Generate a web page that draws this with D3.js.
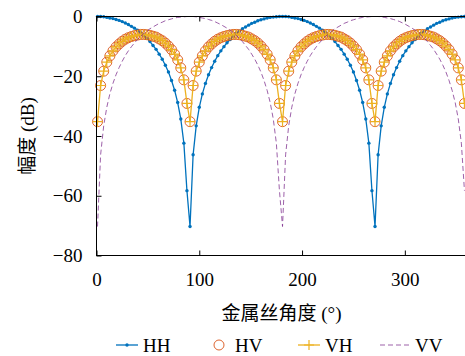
<!DOCTYPE html>
<html>
<head>
<meta charset="utf-8">
<script src="https://cdn.jsdelivr.net/npm/d3@7"></script>
<style>
  body { margin: 0; background: #fff; }
  text { font-family: "Liberation Serif", "Noto Sans CJK SC", serif; fill: #000; }
</style>
</head>
<body>
<svg id="chart" width="465" height="356"></svg>
<script>
// wire angle (deg) for every sample
const angles = [
  1, 4, 7, 10, 13, 16, 19, 22, 25, 28,
  31, 34, 37, 40, 43, 46, 49, 52, 55, 58,
  61, 64, 67, 70, 73, 76, 79, 82, 85, 88,
  91, 94, 97, 100, 103, 106, 109, 112, 115, 118,
  121, 124, 127, 130, 133, 136, 139, 142, 145, 148,
  151, 154, 157, 160, 163, 166, 169, 172, 175, 178,
  181, 184, 187, 190, 193, 196, 199, 202, 205, 208,
  211, 214, 217, 220, 223, 226, 229, 232, 235, 238,
  241, 244, 247, 250, 253, 256, 259, 262, 265, 268,
  271, 274, 277, 280, 283, 286, 289, 292, 295, 298,
  301, 304, 307, 310, 313, 316, 319, 322, 325, 328,
  331, 334, 337, 340, 343, 346, 349, 352, 355, 358
];

// amplitudes in dB
const hhDb = [
  0.0, 0.0, -0.1, -0.3, -0.5, -0.7, -1.0, -1.3, -1.7, -2.2,
  -2.7, -3.3, -3.9, -4.6, -5.4, -6.3, -7.3, -8.4, -9.7, -11.0,
  -12.6, -14.3, -16.3, -18.6, -21.4, -24.7, -28.8, -34.3, -42.4, -58.3,
  -70.3, -46.3, -36.6, -30.4, -25.9, -22.4, -19.5, -17.1, -15.0, -13.1,
  -11.5, -10.1, -8.8, -7.7, -6.6, -5.7, -4.9, -4.1, -3.5, -2.9,
  -2.3, -1.9, -1.4, -1.1, -0.8, -0.5, -0.3, -0.2, -0.1, 0.0,
  0.0, 0.0, -0.1, -0.3, -0.5, -0.7, -1.0, -1.3, -1.7, -2.2,
  -2.7, -3.3, -3.9, -4.6, -5.4, -6.3, -7.3, -8.4, -9.7, -11.0,
  -12.6, -14.3, -16.3, -18.6, -21.4, -24.7, -28.8, -34.3, -42.4, -58.3,
  -70.3, -46.3, -36.6, -30.4, -25.9, -22.4, -19.5, -17.1, -15.0, -13.1,
  -11.5, -10.1, -8.8, -7.7, -6.6, -5.7, -4.9, -4.1, -3.5, -2.9,
  -2.3, -1.9, -1.4, -1.1, -0.8, -0.5, -0.3, -0.2, -0.1, 0.0
];

const hvDb = [
  -35.2, -23.1, -18.3, -15.3, -13.2, -11.5, -10.2, -9.2, -8.3, -7.6,
  -7.1, -6.7, -6.4, -6.2, -6.0, -6.0, -6.1, -6.3, -6.6, -6.9,
  -7.5, -8.1, -8.9, -9.9, -11.1, -12.6, -14.5, -17.2, -21.2, -29.1,
  -35.2, -23.1, -18.3, -15.3, -13.2, -11.5, -10.2, -9.2, -8.3, -7.6,
  -7.1, -6.7, -6.4, -6.2, -6.0, -6.0, -6.1, -6.3, -6.6, -6.9,
  -7.5, -8.1, -8.9, -9.9, -11.1, -12.6, -14.5, -17.2, -21.2, -29.1,
  -35.2, -23.1, -18.3, -15.3, -13.2, -11.5, -10.2, -9.2, -8.3, -7.6,
  -7.1, -6.7, -6.4, -6.2, -6.0, -6.0, -6.1, -6.3, -6.6, -6.9,
  -7.5, -8.1, -8.9, -9.9, -11.1, -12.6, -14.5, -17.2, -21.2, -29.1,
  -35.2, -23.1, -18.3, -15.3, -13.2, -11.5, -10.2, -9.2, -8.3, -7.6,
  -7.1, -6.7, -6.4, -6.2, -6.0, -6.0, -6.1, -6.3, -6.6, -6.9,
  -7.5, -8.1, -8.9, -9.9, -11.1, -12.6, -14.5, -17.2, -21.2, -29.1
];

// VH sits right on top of HV in the picture
const vhDb = [...hvDb];

const vvDb = [
  -70.3, -46.3, -36.6, -30.4, -25.9, -22.4, -19.5, -17.1, -15.0, -13.1,
  -11.5, -10.1, -8.8, -7.7, -6.6, -5.7, -4.9, -4.1, -3.5, -2.9,
  -2.3, -1.9, -1.4, -1.1, -0.8, -0.5, -0.3, -0.2, -0.1, 0.0,
  0.0, 0.0, -0.1, -0.3, -0.5, -0.7, -1.0, -1.3, -1.7, -2.2,
  -2.7, -3.3, -3.9, -4.6, -5.4, -6.3, -7.3, -8.4, -9.7, -11.0,
  -12.6, -14.3, -16.3, -18.6, -21.4, -24.7, -28.8, -34.3, -42.4, -58.3,
  -70.3, -46.3, -36.6, -30.4, -25.9, -22.4, -19.5, -17.1, -15.0, -13.1,
  -11.5, -10.1, -8.8, -7.7, -6.6, -5.7, -4.9, -4.1, -3.5, -2.9,
  -2.3, -1.9, -1.4, -1.1, -0.8, -0.5, -0.3, -0.2, -0.1, 0.0,
  0.0, 0.0, -0.1, -0.3, -0.5, -0.7, -1.0, -1.3, -1.7, -2.2,
  -2.7, -3.3, -3.9, -4.6, -5.4, -6.3, -7.3, -8.4, -9.7, -11.0,
  -12.6, -14.3, -16.3, -18.6, -21.4, -24.7, -28.8, -34.3, -42.4, -58.3
];

const xTicks = [0, 100, 200, 300];
const yTicks = [0, -20, -40, -60, -80];
const seriesNames = ["HH", "HV", "VH", "VV"];

const colors = { HH: "#0072bd", HV: "#d95319", VH: "#edb120", VV: "#7e2f8e" };

const svg = d3.select("#chart");
const x = d3.scaleLinear().domain([0, 360]).range([96.5, 466.5]);
const y = d3.scaleLinear().domain([-80, 0]).range([255.5, 16.5]);
const fs = 19;

const pts = vals => angles.map((a, i) => ({ a: a, v: vals[i] }));
const line = d3.line().x(d => x(d.a)).y(d => y(d.v));

// HH: line with small dots
const hh = pts(hhDb);
svg.append("path").datum(hh)
  .attr("d", line).attr("fill", "none")
  .attr("stroke", colors.HH).attr("stroke-width", 1.3);
svg.append("g").selectAll("circle").data(hh).enter().append("circle")
  .attr("cx", d => x(d.a)).attr("cy", d => y(d.v))
  .attr("r", 1.7).attr("fill", colors.HH);

// HV: open circles only
svg.append("g").selectAll("circle").data(pts(hvDb)).enter().append("circle")
  .attr("cx", d => x(d.a)).attr("cy", d => y(d.v))
  .attr("r", 5).attr("fill", "none")
  .attr("stroke", colors.HV).attr("stroke-width", 0.9);

// VH: line with plus markers
const vh = pts(vhDb);
svg.append("path").datum(vh)
  .attr("d", line).attr("fill", "none")
  .attr("stroke", colors.VH).attr("stroke-width", 1.3);
svg.append("g").selectAll("path").data(vh).enter().append("path")
  .attr("d", d => `M${x(d.a) - 5},${y(d.v)}h10M${x(d.a)},${y(d.v) - 5}v10`)
  .attr("stroke", colors.VH).attr("stroke-width", 1.2);

// VV: dashed line
svg.append("path").datum(pts(vvDb))
  .attr("d", line).attr("fill", "none")
  .attr("stroke", colors.VV).attr("stroke-width", 0.9)
  .attr("stroke-opacity", 0.85)
  .attr("stroke-dasharray", "5,3");

// frame
svg.append("rect")
  .attr("x", x(0)).attr("y", y(0))
  .attr("width", x(360) - x(0)).attr("height", y(-80) - y(0))
  .attr("fill", "none").attr("stroke", "#000").attr("stroke-width", 1);

// axes, ticks pointing inward
const fmt = d3.format("d");
const gx = svg.append("g").attr("transform", `translate(0,${y(-80)})`)
  .call(d3.axisBottom(x).tickValues(xTicks).tickFormat(fmt)
    .tickSize(-5).tickSizeOuter(0).tickPadding(17));
const gt = svg.append("g").attr("transform", `translate(0,${y(0)})`)
  .call(d3.axisTop(x).tickValues(xTicks).tickFormat("")
    .tickSize(-5).tickSizeOuter(0));
const gy = svg.append("g").attr("transform", `translate(${x(0)},0)`)
  .call(d3.axisLeft(y).tickValues(yTicks).tickFormat(fmt)
    .tickSize(-5).tickSizeOuter(0).tickPadding(14));
[gx, gt, gy].forEach(g => {
  g.select(".domain").remove();
  g.selectAll("line").attr("stroke", "#000");
  g.selectAll("text").attr("font-size", fs).attr("font-family", null).attr("fill", "#000");
});

// axis titles
svg.append("text")
  .attr("x", (x(0) + x(360)) / 2).attr("y", 320)
  .attr("text-anchor", "middle").attr("font-size", fs)
  .text("金属丝角度 (°)");
svg.append("text")
  .attr("transform", `translate(34,${(y(0) + y(-80)) / 2}) rotate(-90)`)
  .attr("text-anchor", "middle").attr("font-size", fs)
  .text("幅度 (dB)");

// legend
const legY = 345;
const legend = svg.append("g");
const legX = { HH: 116, HV: 208, VH: 298, VV: 380 };
seriesNames.forEach(name => {
  const lx = legX[name];
  if (name === "HH") {
    legend.append("line").attr("x1", lx).attr("x2", lx + 22)
      .attr("y1", legY).attr("y2", legY)
      .attr("stroke", colors.HH).attr("stroke-width", 1.3);
    legend.append("circle").attr("cx", lx + 11).attr("cy", legY)
      .attr("r", 1.7).attr("fill", colors.HH);
  } else if (name === "HV") {
    legend.append("circle").attr("cx", lx + 11).attr("cy", legY)
      .attr("r", 5).attr("fill", "none")
      .attr("stroke", colors.HV).attr("stroke-width", 0.9);
  } else if (name === "VH") {
    legend.append("line").attr("x1", lx).attr("x2", lx + 22)
      .attr("y1", legY).attr("y2", legY)
      .attr("stroke", colors.VH).attr("stroke-width", 1.3);
    legend.append("path")
      .attr("d", `M${lx + 6},${legY}h10M${lx + 11},${legY - 5}v10`)
      .attr("stroke", colors.VH).attr("stroke-width", 1.2);
  } else {
    legend.append("line").attr("x1", lx).attr("x2", lx + 32)
      .attr("y1", legY).attr("y2", legY)
      .attr("stroke", colors.VV).attr("stroke-width", 0.9)
      .attr("stroke-opacity", 0.85).attr("stroke-dasharray", "5,3");
  }
  legend.append("text")
    .attr("x", name === "VV" ? lx + 35 : lx + 27).attr("y", legY)
    .attr("dy", "0.35em").attr("font-size", fs)
    .text(name);
});
</script>
</body>
</html>
